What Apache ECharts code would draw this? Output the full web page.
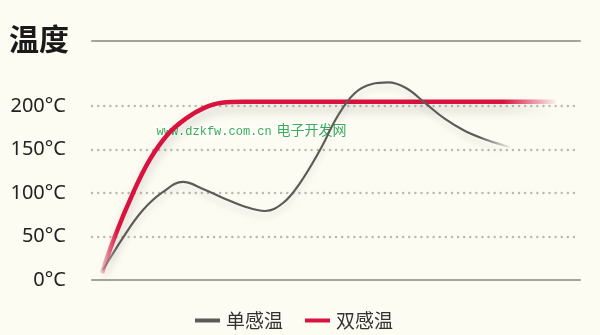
<!DOCTYPE html>
<html>
<head>
<meta charset="utf-8">
<script src="https://cdn.jsdelivr.net/npm/echarts@6/dist/echarts.min.js"></script>
<style>
  html, body { margin: 0; padding: 0; background: #fdfcf3; }
  #chart { width: 600px; height: 335px; }
</style>
</head>
<body>
<div id="chart"></div>
<script>
// Heating curves: elapsed time (0-100) against temperature (°C)
const singleTime = [2.25, 6.56, 10.45, 14.55, 18.65, 22.75, 26.84, 30.94, 35.45, 39.14, 42.62, 46.72, 50.41, 53.89, 57.38, 60.66, 64.34, 68.24, 72.34, 76.43, 80.94, 85.66];
const singleTemp = [11.5, 50.6, 80.5, 101.3, 112.8, 104.7, 94.4, 85.2, 79.4, 88.6, 111.6, 149.6, 189.3, 215.2, 225.5, 227.3, 220.9, 203.7, 185.3, 171.5, 161.1, 153];
const dualTime = [2.05, 4.71, 8.4, 11.9, 15.6, 19.3, 23, 26.6, 31, 95];
const dualTemp = [8, 50.6, 100, 139, 168, 186, 198, 204, 205, 205];
const tempTicks = [0, 50, 100, 150, 200];
const seriesNames = ['单感温', '双感温'];

const zip = (xs, ys) => xs.map((x, i) => [x, ys[i]]);

const chart = echarts.init(document.getElementById('chart'), null, { renderer: 'canvas' });

const grey = '#5c5b58';
const red = '#d9123f';

chart.setOption({
  backgroundColor: '#fdfcf3',
  animation: false,
  grid: { left: 92, right: 20, top: 41, bottom: 55 },
  graphic: [
    {
      type: 'text', left: 9, top: 24,
      style: { text: '温度', font: 'bold 30px "Noto Sans CJK SC"', fill: '#1a1a1a' }
    },
    {
      type: 'text', left: 155, top: 124,
      style: {
        text: 'www.dzkfw.com.cn', font: '12px "Liberation Mono"', fill: '#3bae55',
        stroke: '#ffffff', lineWidth: 3
      }
    },
    {
      type: 'text', left: 275, top: 121,
      style: {
        text: '电子开发网', font: '14px "Noto Sans CJK SC"', fill: '#3bae55',
        stroke: '#ffffff', lineWidth: 3
      }
    }
  ],
  legend: {
    left: 190, top: 306,
    icon: 'rect', itemWidth: 25, itemHeight: 4, itemGap: 22,
    textStyle: { fontSize: 19, color: '#333', fontFamily: '"Noto Sans CJK SC"', padding: [0, 0, 0, 1] },
    data: [
      { name: seriesNames[0], itemStyle: { color: grey } },
      { name: seriesNames[1], itemStyle: { color: red } }
    ]
  },
  xAxis: [
    {
      type: 'value', min: 0, max: 100, position: 'bottom',
      axisLine: { show: true, lineStyle: { color: '#a6a398', width: 2 } },
      axisTick: { show: false }, axisLabel: { show: false }, splitLine: { show: false }
    },
    {
      type: 'value', min: 0, max: 100, position: 'top',
      axisLine: { show: true, lineStyle: { color: '#a6a398', width: 2 } },
      axisTick: { show: false }, axisLabel: { show: false }, splitLine: { show: false }
    }
  ],
  yAxis: {
    type: 'value', min: 0, max: 275, interval: 50,
    axisLine: { show: false }, axisTick: { show: false },
    axisLabel: {
      margin: 26, fontSize: 20, color: '#222', fontFamily: '"Noto Sans"',
      formatter: v => tempTicks.includes(v) ? v + '°C' : ''
    },
    splitLine: {
      show: true,
      lineStyle: {
        color: ['transparent', '#bcb9b0', '#bcb9b0', '#bcb9b0', '#bcb9b0', 'transparent'],
        width: 2.4, type: [0.1, 6], cap: 'round'
      }
    }
  },
  series: [
    {
      name: seriesNames[0], type: 'line', xAxisIndex: 0,
      data: zip(singleTime, singleTemp),
      smooth: 0.4, showSymbol: false, symbol: 'none',
      itemStyle: { color: grey },
      lineStyle: {
        width: 2.2,
        color: new echarts.graphic.LinearGradient(0, 0, 1, 0, [
          { offset: 0, color: 'rgba(92,91,88,0.3)' },
          { offset: 0.04, color: grey },
          { offset: 0.92, color: grey },
          { offset: 1, color: 'rgba(92,91,88,0)' }
        ]),
        shadowColor: 'rgba(0,0,0,0.12)', shadowBlur: 6, shadowOffsetY: 5
      },
      z: 3
    },
    {
      name: seriesNames[1], type: 'line', xAxisIndex: 0,
      data: zip(dualTime, dualTemp),
      smooth: 0.4, showSymbol: false, symbol: 'none',
      itemStyle: { color: red },
      lineStyle: {
        width: 4.5,
        color: new echarts.graphic.LinearGradient(0, 0, 1, 0, [
          { offset: 0, color: 'rgba(217,18,63,0.15)' },
          { offset: 0.04, color: red },
          { offset: 0.88, color: red },
          { offset: 1, color: 'rgba(217,18,63,0)' }
        ]),
        shadowColor: 'rgba(0,0,0,0.18)', shadowBlur: 10, shadowOffsetY: 7
      },
      z: 2
    }
  ]
});
</script>
</body>
</html>
